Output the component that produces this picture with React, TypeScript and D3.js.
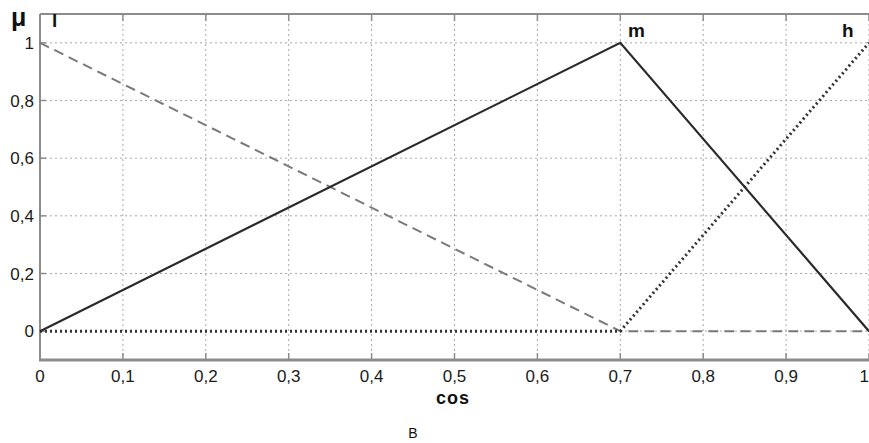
import React, { useEffect, useRef } from "react";
import * as d3 from "d3";

// membership functions: low, medium, high
const xs = [0, 0.7, 1];
const lowMu = [1, 0, 0];
const midMu = [0, 1, 0];
const highMu = [0, 0, 1];

const xTicks = [0, 0.1, 0.2, 0.3, 0.4, 0.5, 0.6, 0.7, 0.8, 0.9, 1];
const yTicks = [0, 0.2, 0.4, 0.6, 0.8, 1];

const W = 869;
const H = 443;
const FONT = "'Liberation Sans', Arial, sans-serif";

const fmt = (v: number) => String(v).replace(".", ",");

const App = () => {
    const ref = useRef<SVGSVGElement | null>(null);

    useEffect(() => {
        const svg = d3.select(ref.current);
        svg.selectAll("*").remove();

        const x = d3.scaleLinear().domain([0, 1]).range([40, 869]);
        const y = d3.scaleLinear().domain([-0.1, 1.1]).range([360, 14]);

        // ── Grid ──────────────────────────────────────────────────────────
        const grid = svg.append("g");
        xTicks.forEach(t => {
            grid.append("line")
                .attr("x1", x(t)).attr("x2", x(t))
                .attr("y1", y(1.1)).attr("y2", y(-0.1))
                .attr("stroke", "#a8a8a8").attr("stroke-width", 1)
                .attr("stroke-dasharray", "2,3");
        });
        yTicks.forEach(t => {
            grid.append("line")
                .attr("x1", x(0)).attr("x2", x(1))
                .attr("y1", y(t)).attr("y2", y(t))
                .attr("stroke", "#a8a8a8").attr("stroke-width", 1)
                .attr("stroke-dasharray", "2,3");
        });

        // ── Frame ─────────────────────────────────────────────────────────
        svg.append("line")
            .attr("x1", x(0)).attr("x2", x(1))
            .attr("y1", y(1.1)).attr("y2", y(1.1))
            .attr("stroke", "#8c8c8c").attr("stroke-width", 2);
        svg.append("line")
            .attr("x1", x(0)).attr("x2", x(0))
            .attr("y1", y(1.1)).attr("y2", y(-0.1))
            .attr("stroke", "#8c8c8c").attr("stroke-width", 2);
        svg.append("line")
            .attr("x1", x(0) - 1).attr("x2", x(1))
            .attr("y1", y(-0.1)).attr("y2", y(-0.1))
            .attr("stroke", "#8c8c8c").attr("stroke-width", 3);

        // inner tick marks
        xTicks.forEach(t => {
            svg.append("line")
                .attr("x1", x(t)).attr("x2", x(t))
                .attr("y1", y(-0.1)).attr("y2", y(-0.1) - 7)
                .attr("stroke", "#8c8c8c").attr("stroke-width", 1.5);
            svg.append("line")
                .attr("x1", x(t)).attr("x2", x(t))
                .attr("y1", y(1.1)).attr("y2", y(1.1) + 7)
                .attr("stroke", "#8c8c8c").attr("stroke-width", 1.5);
        });
        yTicks.forEach(t => {
            svg.append("line")
                .attr("x1", x(0)).attr("x2", x(0) + 6)
                .attr("y1", y(t)).attr("y2", y(t))
                .attr("stroke", "#8c8c8c").attr("stroke-width", 1.5);
        });

        // ── Tick labels ───────────────────────────────────────────────────
        xTicks.forEach(t => {
            svg.append("text")
                .attr("x", x(t)).attr("y", y(-0.1) + 22)
                .attr("text-anchor", t === 1 ? "end" : "middle")
                .attr("font-family", FONT).attr("font-size", 17)
                .attr("fill", "#1a1a1a")
                .text(fmt(t));
        });
        yTicks.forEach(t => {
            svg.append("text")
                .attr("x", 34).attr("y", y(t) + 6)
                .attr("text-anchor", "end")
                .attr("font-family", FONT).attr("font-size", 17)
                .attr("fill", "#1a1a1a")
                .text(fmt(t));
        });

        // ── Curves ────────────────────────────────────────────────────────
        const line = d3.line<number>().x((_, i) => x(xs[i])).y(d => y(d));

        svg.append("path").datum(lowMu).attr("d", line)
            .attr("fill", "none").attr("stroke", "#7a7a7a").attr("stroke-width", 2)
            .attr("stroke-dasharray", "10,6");
        svg.append("path").datum(highMu).attr("d", line)
            .attr("fill", "none").attr("stroke", "#333").attr("stroke-width", 3)
            .attr("stroke-dasharray", "2,3");
        svg.append("path").datum(midMu).attr("d", line)
            .attr("fill", "none").attr("stroke", "#2a2a2a").attr("stroke-width", 2.2);

        // ── Labels ────────────────────────────────────────────────────────
        const label = (tx: number, ty: number, s: string, size = 19) =>
            svg.append("text")
                .attr("x", tx).attr("y", ty)
                .attr("font-family", FONT).attr("font-size", size)
                .attr("font-weight", "bold").attr("fill", "#111")
                .text(s);

        label(11, 26, "μ", 25);
        label(52, 27, "l");
        label(628, 37, "m");
        label(842, 37, "h");
        label(436, 404, "cos", 18).attr("letter-spacing", 1);

        svg.append("text")
            .attr("x", 413).attr("y", 438)
            .attr("text-anchor", "middle")
            .attr("font-family", FONT).attr("font-size", 14)
            .attr("fill", "#111")
            .text("В");
    }, []);

    return (
        <svg
            ref={ref}
            width={W}
            height={H}
            style={{ position: "absolute", left: 0, top: 0, background: "#fff" }}
        />
    );
};

export default App;
